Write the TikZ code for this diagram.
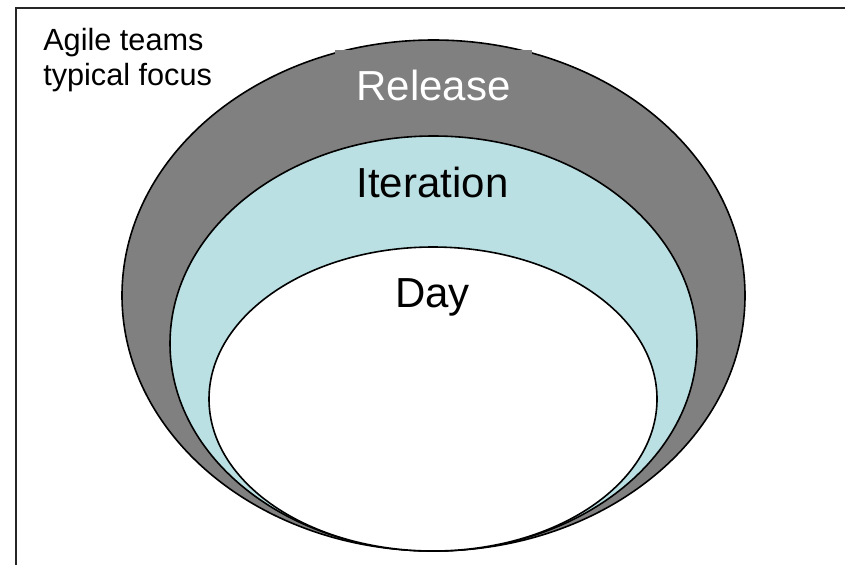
\documentclass[tikz,border=0pt]{standalone}
\usepackage{fontspec}
\setmainfont{Liberation Sans}
\definecolor{ringgray}{RGB}{128,128,128}
\definecolor{ringblue}{RGB}{187,224,227}
\tikzset{
  ring/.style={draw=black, line width=1.2pt},
  ringlabel/.style={anchor=base, inner sep=0pt, font=\fontsize{31.5}{36}\selectfont},
}
\begin{document}
\begin{tikzpicture}[x=0.75pt, y=-0.75pt]
\useasboundingbox (0,0) rectangle (845,565);
% frame, only left and top edges show
\coordinate (framebl) at (16,565);
\coordinate (frametl) at (16,8);
\coordinate (frametr) at (845,8);
\draw[line width=1.5pt, black!85] (framebl) -- (frametl) -- (frametr);

% corner caption
\node[anchor=base west, inner sep=0pt, align=left, font=\fontsize{23}{26.25}\selectfont] (caption) at (43,85) {Agile teams\\typical focus};

% outer ring: release
\draw[ring, fill=ringgray] (433.5,295.5) ellipse [x radius=311.5, y radius=255.5];
\node[ringlabel, fill=ringgray, text=white, minimum width=147.75pt, text height=22.5pt, text depth=6pt, inner ysep=15pt] (release) at (433.5,100) {Release};

% middle ring: iteration
\draw[ring, fill=ringblue] (433.5,343.5) ellipse [x radius=263.5, y radius=207.5];
\node[ringlabel] (iteration) at (432.5,197) {Iteration};

% inner ring: day
\draw[ring, fill=white] (433,399) ellipse [x radius=224, y radius=152];
\node[ringlabel] (day) at (432.5,307) {Day};
\end{tikzpicture}
\end{document}
